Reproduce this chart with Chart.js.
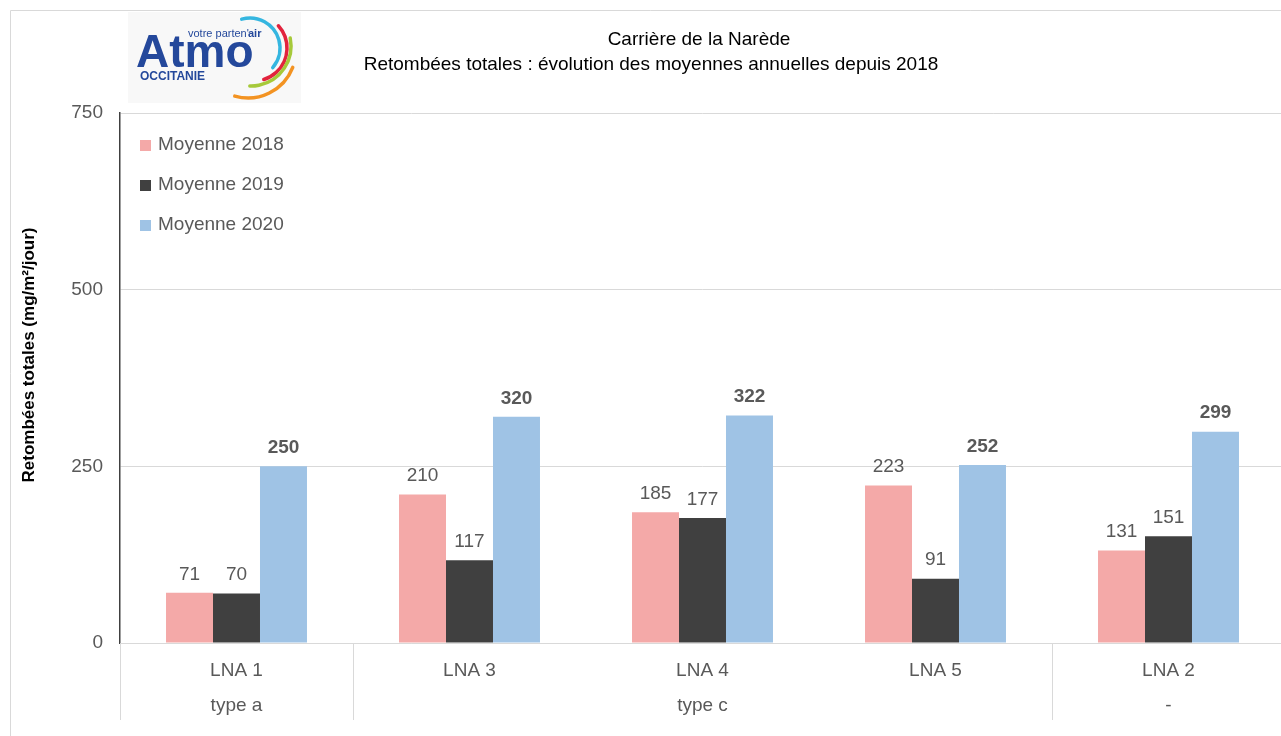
<!DOCTYPE html>
<html>
<head>
<meta charset="utf-8">
<script src="https://cdn.jsdelivr.net/npm/chart.js@4.4.0/dist/chart.umd.min.js"></script>
<style>
  html, body { margin: 0; padding: 0; background: #fff; overflow: hidden; }
  #wrap { position: relative; width: 1290px; height: 736px; }
</style>
</head>
<body>
<div id="wrap"><canvas id="chart"></canvas></div>
<script>
// chart values
const sites = ['LNA 1', 'LNA 3', 'LNA 4', 'LNA 5', 'LNA 2'];
const siteTypes = ['type a', 'type c', '-'];
const typeSpans = [1, 3, 1];
const seriesNames = ['Moyenne 2018', 'Moyenne 2019', 'Moyenne 2020'];
const moy2018 = [71, 210, 185, 223, 131];
const moy2019 = [70, 117, 177, 91, 151];
const moy2020 = [250, 320, 322, 252, 299];
const yTicks = [0, 250, 500, 750];

const NARROW = '"Liberation Sans Narrow", "Arial Narrow", Arial, sans-serif';
const SANS = '"Liberation Sans", Arial, sans-serif';
const GREY_TXT = '#595959';

// labels over bars, legend, titles, logo, group row
const decorations = {
    id: 'decorations',
    afterDatasetsDraw(chart) {
        const ctx = chart.ctx;
        ctx.save();
        ctx.textAlign = 'center';
        ctx.textBaseline = 'bottom';
        chart.data.datasets.forEach((ds, i) => {
            const meta = chart.getDatasetMeta(i);
            ctx.font = (i === 2 ? 'bold ' : '') + '19px ' + NARROW;
            ctx.fillStyle = GREY_TXT;
            meta.data.forEach((bar, j) => {
                ctx.fillText(ds.data[j], bar.x, bar.y - 9);
            });
        });
        ctx.restore();
    },
    afterDraw(chart) {
        const ctx = chart.ctx;
        const x = chart.scales.x;
        const area = chart.chartArea;
        ctx.save();

        // outer frame
        ctx.strokeStyle = '#d9d9d9';
        ctx.lineWidth = 1;
        ctx.beginPath();
        ctx.moveTo(10.5, 736);
        ctx.lineTo(10.5, 10.5);
        ctx.lineTo(1290, 10.5);
        ctx.stroke();

        // legend inside the plot
        ctx.font = '19px ' + NARROW;
        ctx.textAlign = 'left';
        ctx.textBaseline = 'middle';
        chart.data.datasets.forEach((ds, i) => {
            const yy = 145 + i * 40;
            ctx.fillStyle = ds.backgroundColor;
            ctx.fillRect(140, yy - 5, 11, 11);
            ctx.fillStyle = GREY_TXT;
            ctx.fillText(ds.label, 158, yy);
        });

        // group row below the category labels
        const step = x.width / sites.length;
        ctx.strokeStyle = '#d9d9d9';
        ctx.beginPath();
        let k = 0;
        const bounds = [0];
        typeSpans.forEach(s => { k += s; bounds.push(k); });
        bounds.forEach(b => {
            const px = Math.round(x.left + b * step) + 0.5;
            ctx.moveTo(px, area.bottom);
            ctx.lineTo(px, 720);
        });
        ctx.stroke();
        ctx.fillStyle = GREY_TXT;
        ctx.textAlign = 'center';
        siteTypes.forEach((t, i) => {
            const cx = x.left + (bounds[i] + bounds[i + 1]) / 2 * step;
            ctx.fillText(t, cx, 706);
        });

        // y axis title
        ctx.save();
        ctx.translate(29, 355);
        ctx.rotate(-Math.PI / 2);
        ctx.font = 'bold 17px ' + SANS;
        ctx.fillStyle = '#000';
        ctx.fillText('Retombées totales (mg/m²/jour)', 0, 0);
        ctx.restore();

        // title
        ctx.font = '19px ' + NARROW;
        ctx.fillStyle = '#000';
        ctx.fillText('Carrière de la Narède', 699, 40);
        ctx.fillText('Retombées totales : évolution des moyennes annuelles depuis 2018', 651, 65);

        // logo
        ctx.fillStyle = '#f8f8f8';
        ctx.fillRect(128, 12, 173, 91);
        ctx.lineCap = 'round';
        const arcs = [
            ['#35b6e0', 250, 48, 30, -1.85, 0.71],
            ['#e2233d', 254, 48, 33, -0.74, 1.27],
            ['#a6c93a', 251, 46, 40, -0.2, 1.6],
            ['#f39322', 248, 50, 48, 0.37, 1.85]
        ];
        arcs.forEach(a => {
            ctx.strokeStyle = a[0];
            ctx.lineWidth = 3.5;
            ctx.beginPath();
            ctx.arc(a[1], a[2], a[3], a[4], a[5]);
            ctx.stroke();
        });
        ctx.fillStyle = '#24489b';
        ctx.textAlign = 'left';
        ctx.textBaseline = 'alphabetic';
        ctx.font = 'bold 46px ' + SANS;
        ctx.fillText('Atmo', 136, 67);
        ctx.font = 'bold 12px ' + SANS;
        ctx.fillText('OCCITANIE', 140, 80);
        ctx.font = '11px ' + SANS;
        ctx.fillText("votre parten'", 188, 37);
        ctx.font = 'bold 11px ' + SANS;
        ctx.fillText('air', 248, 37);
        ctx.restore();
    }
};

new Chart(document.getElementById('chart'), {
    type: 'bar',
    data: {
        labels: sites,
        datasets: [
            { label: seriesNames[0], data: moy2018, backgroundColor: '#f4a9a8' },
            { label: seriesNames[1], data: moy2019, backgroundColor: '#404040' },
            { label: seriesNames[2], data: moy2020, backgroundColor: '#9fc3e5' }
        ]
    },
    options: {
        responsive: true,
        maintainAspectRatio: false,
        animation: false,
        layout: { padding: { top: 113, left: 0, right: 5, bottom: 0 } },
        plugins: { legend: { display: false }, tooltip: { enabled: false } },
        datasets: { bar: { categoryPercentage: 0.605, barPercentage: 1.0 } },
        scales: {
            x: {
                grid: { display: false },
                border: { color: '#d9d9d9' },
                ticks: { color: GREY_TXT, padding: 8, font: { family: NARROW, size: 19 } },
                afterFit(scale) { scale.height = 93; }
            },
            y: {
                min: 0,
                max: 750,
                afterBuildTicks(scale) { scale.ticks = yTicks.map(v => ({ value: v })); },
                grid: { color: '#d9d9d9', drawTicks: false },
                border: { color: '#404040', width: 1.5 },
                ticks: { color: GREY_TXT, padding: 17, font: { family: NARROW, size: 19 } },
                afterFit(scale) { scale.width = 120; }
            }
        }
    },
    plugins: [decorations]
});
</script>
</body>
</html>
